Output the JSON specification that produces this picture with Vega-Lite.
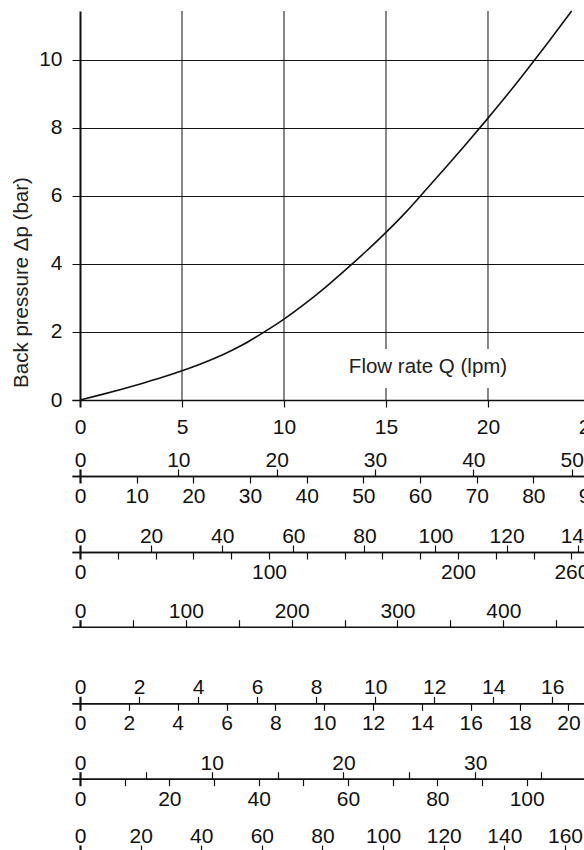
{
  "$schema": "https://vega.github.io/schema/vega-lite/v6.json",
  "autosize": {"type": "none"},
  "padding": {"left": 80, "top": 11, "right": 0, "bottom": 0},
  "width": 504,
  "height": 839,
  "background": "white",
  "config": {
    "font": "Liberation Sans",
    "view": {"stroke": null},
    "axis": {
      "grid": false,
      "labelFont": "Liberation Sans",
      "labelFontSize": 21,
      "labelColor": "#111",
      "labelFlush": false,
      "labelOverlap": false,
      "labelBound": false,
      "domainColor": "#111",
      "domainWidth": 1.5,
      "tickColor": "#111",
      "tickSize": 7,
      "tickWidth": 1.2,
      "format": "d"
    }
  },
  "datasets": {
    "curve": [
      {"Q": 0, "dp": 0}, {"Q": 1, "dp": 0.15}, {"Q": 2, "dp": 0.31}, {"Q": 3, "dp": 0.48},
      {"Q": 4, "dp": 0.66}, {"Q": 5, "dp": 0.86}, {"Q": 6, "dp": 1.08}, {"Q": 7, "dp": 1.33},
      {"Q": 8, "dp": 1.63}, {"Q": 9, "dp": 1.99}, {"Q": 10, "dp": 2.38}, {"Q": 11, "dp": 2.82},
      {"Q": 12, "dp": 3.3}, {"Q": 13, "dp": 3.82}, {"Q": 14, "dp": 4.36}, {"Q": 15, "dp": 4.93},
      {"Q": 16, "dp": 5.54}, {"Q": 17, "dp": 6.21}, {"Q": 18, "dp": 6.89}, {"Q": 19, "dp": 7.58},
      {"Q": 20, "dp": 8.29}, {"Q": 21, "dp": 9.02}, {"Q": 22, "dp": 9.78}, {"Q": 23, "dp": 10.56},
      {"Q": 24, "dp": 11.36}, {"Q": 24.1, "dp": 11.44}
    ],
    "vgrid": [{"Q": 5}, {"Q": 10}, {"Q": 15}, {"Q": 20}, {"Q": 25}],
    "scales": [
      {"scale": "B_top", "v": 0}, {"scale": "B_top", "v": 50},
      {"scale": "B_bot", "v": 0}, {"scale": "B_bot", "v": 90},
      {"scale": "C_top", "v": 0}, {"scale": "C_top", "v": 140},
      {"scale": "C_bot", "v": 0}, {"scale": "C_bot", "v": 260},
      {"scale": "D_top", "v": 0}, {"scale": "D_top", "v": 450},
      {"scale": "E_top", "v": 0}, {"scale": "E_top", "v": 16},
      {"scale": "E_bot", "v": 0}, {"scale": "E_bot", "v": 20},
      {"scale": "F_top", "v": 0}, {"scale": "F_top", "v": 35},
      {"scale": "F_bot", "v": 0}, {"scale": "F_bot", "v": 100},
      {"scale": "G_top", "v": 0}, {"scale": "G_top", "v": 160}
    ],
    "xtitle": [{"label": "Flow rate Q (lpm)", "Q": 17.06, "dp": 0.97}]
  },
  "resolve": {"scale": {"x": "independent"}},
  "layer": [
    {
      "layer": [
        {
          "data": {"name": "vgrid"},
          "mark": {"type": "rule", "color": "#111", "strokeWidth": 1},
          "encoding": {
            "x": {"field": "Q", "type": "quantitative"},
            "y": {"datum": 0},
            "y2": {"datum": 11.44}
          }
        },
        {
          "data": {"name": "curve"},
          "mark": {"type": "line", "color": "#111", "strokeWidth": 1.6, "interpolate": "monotone"},
          "encoding": {
            "x": {
              "field": "Q", "type": "quantitative",
              "scale": {"domain": [-0.392, 25], "range": [-8, 510], "nice": false, "zero": false},
              "axis": {"orient": "bottom", "offset": -450, "values": [0, 5, 10, 15, 20, 25], "grid": false, "title": null, "labelPadding": 9,
                "tickWidth": {"condition": {"test": "datum.value === 0", "value": 2}, "value": 1.2}}
            },
            "y": {
              "field": "dp", "type": "quantitative",
              "scale": {"domain": [0, 11.44], "range": [389, 0], "nice": false, "zero": false},
              "axis": {"values": [0, 2, 4, 6, 8, 10], "grid": true, "gridColor": "#111", "gridWidth": 1, "domainWidth": 2, "ticks": false, "labelPadding": 18,
                "title": "Back pressure Δp (bar)", "titleFont": "Liberation Sans", "titleFontSize": 20.5, "titleFontWeight": "normal", "titleColor": "#222",
                "titleAngle": 270, "titleX": -59, "titleY": 271, "titleAlign": "center", "titleBaseline": "middle"}
            }
          }
        },
        {
          "data": {"name": "xtitle"},
          "mark": {"type": "rect", "color": "white"},
          "encoding": {"x": {"datum": 12.8}, "x2": {"datum": 21.3}, "y": {"datum": 0.35}, "y2": {"datum": 1.5}}
        },
        {
          "data": {"name": "xtitle"},
          "mark": {"type": "text", "fontSize": 20.5, "color": "#222", "align": "center", "baseline": "middle", "font": "Liberation Sans"},
          "encoding": {
            "x": {"field": "Q", "type": "quantitative"},
            "y": {"field": "dp", "type": "quantitative"},
            "text": {"field": "label"}
          }
        }
      ]
    },
    {
      "data": {"name": "scales"},
      "transform": [{"filter": {"field": "scale", "equal": "B_top"}}],
      "mark": {"type": "point", "opacity": 0},
      "encoding": {"x": {"field": "v", "type": "quantitative",
        "scale": {"domain": [-0.8136, 51.866], "range": [-8, 510], "nice": false, "zero": false},
        "axis": {"orient": "top", "offset": -465, "values": [0, 10, 20, 30, 40, 50], "title": null, "labelPadding": -1.4,
          "tickWidth": {"condition": {"test": "datum.value === 0", "value": 2.2}, "value": 1.2}}}}
    },
    {
      "data": {"name": "scales"},
      "transform": [{"filter": {"field": "scale", "equal": "B_bot"}}],
      "mark": {"type": "point", "opacity": 0},
      "encoding": {"x": {"field": "v", "type": "quantitative",
        "scale": {"domain": [-1.4118, 90], "range": [-8, 510], "nice": false, "zero": false},
        "axis": {"orient": "bottom", "offset": -374, "values": [0, 10, 20, 30, 40, 50, 60, 70, 80, 90], "title": null, "labelPadding": 2.4,
          "tickWidth": {"condition": {"test": "datum.value === 0", "value": 2.2}, "value": 1.2}}}}
    },
    {
      "data": {"name": "scales"},
      "transform": [{"filter": {"field": "scale", "equal": "C_top"}}],
      "mark": {"type": "point", "opacity": 0},
      "encoding": {"x": {"field": "v", "type": "quantitative",
        "scale": {"domain": [-2.25, 143.46], "range": [-8, 510], "nice": false, "zero": false},
        "axis": {"orient": "top", "offset": -541, "values": [0, 20, 40, 60, 80, 100, 120, 140], "title": null, "labelPadding": -1.4,
          "tickWidth": {"condition": {"test": "datum.value === 0", "value": 2.2}, "value": 1.2}}}}
    },
    {
      "data": {"name": "scales"},
      "transform": [{"filter": {"field": "scale", "equal": "C_bot"}}],
      "mark": {"type": "point", "opacity": 0},
      "encoding": {"x": {"field": "v", "type": "quantitative",
        "scale": {"domain": [-4.233, 269.84], "range": [-8, 510], "nice": false, "zero": false},
        "axis": {"orient": "bottom", "offset": -298, "values": [0, 20, 40, 60, 80, 100, 120, 140, 160, 180, 200, 220, 240, 260], "title": null, "labelPadding": 2.4,
          "labelExpr": "datum.value % 100 === 0 || datum.value === 260 ? datum.label : ''",
          "tickWidth": {"condition": {"test": "datum.value === 0", "value": 2.2}, "value": 1.2}}}}
    },
    {
      "data": {"name": "scales"},
      "transform": [{"filter": {"field": "scale", "equal": "D_top"}}],
      "mark": {"type": "point", "opacity": 0},
      "encoding": {"x": {"field": "v", "type": "quantitative",
        "scale": {"domain": [-7.559, 481.9], "range": [-8, 510], "nice": false, "zero": false},
        "axis": {"orient": "top", "offset": -615.7, "values": [0, 50, 100, 150, 200, 250, 300, 350, 400, 450], "title": null, "labelPadding": -1.4,
          "labelExpr": "datum.value % 100 === 0 ? datum.label : ''",
          "tickWidth": {"condition": {"test": "datum.value === 0", "value": 2.2}, "value": 1.2}}}}
    },
    {
      "data": {"name": "scales"},
      "transform": [{"filter": {"field": "scale", "equal": "E_top"}}],
      "mark": {"type": "point", "opacity": 0},
      "encoding": {"x": {"field": "v", "type": "quantitative",
        "scale": {"domain": [-0.271, 17.28], "range": [-8, 510], "nice": false, "zero": false},
        "axis": {"orient": "top", "offset": -692.3, "values": [0, 2, 4, 6, 8, 10, 12, 14, 16], "title": null, "labelPadding": -1.4,
          "tickWidth": {"condition": {"test": "datum.value === 0", "value": 2.2}, "value": 1.2}}}}
    },
    {
      "data": {"name": "scales"},
      "transform": [{"filter": {"field": "scale", "equal": "E_bot"}}],
      "mark": {"type": "point", "opacity": 0},
      "encoding": {"x": {"field": "v", "type": "quantitative",
        "scale": {"domain": [-0.3276, 20.884], "range": [-8, 510], "nice": false, "zero": false},
        "axis": {"orient": "bottom", "offset": -146.7, "values": [0, 2, 4, 6, 8, 10, 12, 14, 16, 18, 20], "title": null, "labelPadding": 2.4,
          "tickWidth": {"condition": {"test": "datum.value === 0", "value": 2.2}, "value": 1.2}}}}
    },
    {
      "data": {"name": "scales"},
      "transform": [{"filter": {"field": "scale", "equal": "F_top"}}],
      "mark": {"type": "point", "opacity": 0},
      "encoding": {"x": {"field": "v", "type": "quantitative",
        "scale": {"domain": [-0.6074, 38.72], "range": [-8, 510], "nice": false, "zero": false},
        "axis": {"orient": "top", "offset": -767.7, "values": [0, 5, 10, 15, 20, 25, 30, 35], "title": null, "labelPadding": -1.4,
          "labelExpr": "datum.value % 10 === 0 ? datum.label : ''",
          "tickWidth": {"condition": {"test": "datum.value === 0", "value": 2.2}, "value": 1.2}}}}
    },
    {
      "data": {"name": "scales"},
      "transform": [{"filter": {"field": "scale", "equal": "F_bot"}}],
      "mark": {"type": "point", "opacity": 0},
      "encoding": {"x": {"field": "v", "type": "quantitative",
        "scale": {"domain": [-1.791, 114.17], "range": [-8, 510], "nice": false, "zero": false},
        "axis": {"orient": "bottom", "offset": -71.3, "values": [0, 10, 20, 30, 40, 50, 60, 70, 80, 90, 100], "title": null, "labelPadding": 2.4,
          "labelExpr": "datum.value % 20 === 0 ? datum.label : ''",
          "tickWidth": {"condition": {"test": "datum.value === 0", "value": 2.2}, "value": 1.2}}}}
    },
    {
      "data": {"name": "scales"},
      "transform": [{"filter": {"field": "scale", "equal": "G_top"}}],
      "mark": {"type": "point", "opacity": 0},
      "encoding": {"x": {"field": "v", "type": "quantitative",
        "scale": {"domain": [-2.639, 168.26], "range": [-8, 510], "nice": false, "zero": false},
        "axis": {"orient": "top", "offset": -841, "values": [0, 20, 40, 60, 80, 100, 120, 140, 160], "title": null, "labelPadding": -1.4,
          "tickWidth": {"condition": {"test": "datum.value === 0", "value": 2.2}, "value": 1.2}}}}
    }
  ]
}
